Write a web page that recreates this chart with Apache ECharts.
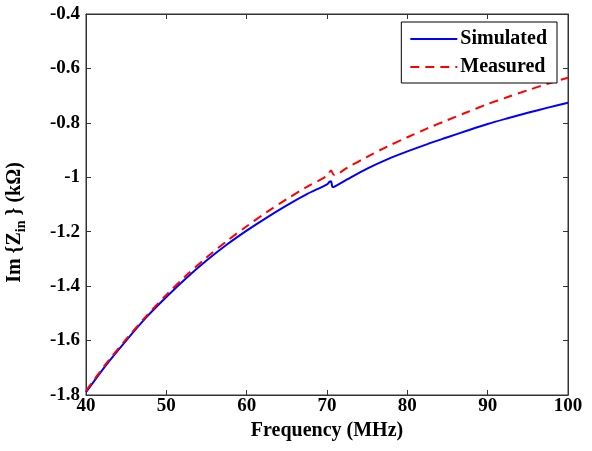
<!DOCTYPE html>
<html>
<head>
<meta charset="utf-8">
<script src="https://cdn.jsdelivr.net/npm/echarts@6/dist/echarts.min.js"></script>
<style>html,body{margin:0;padding:0;background:#fff;}#c{width:592px;height:451px;}</style>
</head>
<body>
<div id="c"></div>
<script>
var freqSim = [40,42.5,45,47.5,50,52.5,55,57.5,60,62.5,65,67.5,70,70.3,70.5,70.7,71,72.5,75,77.5,80,82.5,85,87.5,90,92.5,95,97.5,100];
var simulated = [-1.790,-1.690,-1.600,-1.515,-1.440,-1.370,-1.306,-1.248,-1.196,-1.148,-1.103,-1.062,-1.026,-1.017,-1.015,-1.036,-1.033,-1.008,-0.968,-0.934,-0.905,-0.878,-0.853,-0.828,-0.804,-0.783,-0.763,-0.744,-0.726];
var freqMeas = [40,42.5,45,47.5,50,52.5,55,57.5,60,62.5,65,67.5,70,70.5,70.9,72.5,75,77.5,80,82.5,85,87.5,90,92.5,95,97.5,100];
var measured = [-1.785,-1.685,-1.595,-1.510,-1.432,-1.360,-1.295,-1.235,-1.180,-1.128,-1.080,-1.035,-0.995,-0.975,-0.992,-0.965,-0.925,-0.887,-0.853,-0.820,-0.790,-0.760,-0.731,-0.705,-0.680,-0.656,-0.634];
var xTicks = {min:40, max:100, interval:10};
var yTicks = {min:-1.8, max:-0.4, interval:0.2};
var seriesNames = ['Simulated','Measured'];

function pairs(xs, ys){ return xs.map(function(x,i){return [x, ys[i]];}); }

var font = 'Liberation Serif';
var chart = echarts.init(document.getElementById('c'));
var axisLine = {show:true, lineStyle:{color:'#333', width:1}};
var tick = {show:true, inside:true, length:5, lineStyle:{color:'#333'}};
chart.setOption({
  animation:false,
  backgroundColor:'#fff',
  grid:{left:86, right:24, top:14, bottom:56, containLabel:false, outerBoundsMode:'none',
    show:true, borderColor:'#333', borderWidth:1, backgroundColor:'transparent'},
  legend:{
    data:seriesNames, orient:'vertical', right:35, top:22,
    backgroundColor:'#fff', borderColor:'#000', borderWidth:1,
    padding:[7,10,6,8], itemGap:8, itemWidth:47, itemHeight:14,
    itemStyle:{opacity:0},
    textStyle:{fontFamily:font, fontWeight:'bold', fontSize:20, color:'#000', lineHeight:20, padding:[0,0,0,-2]}
  },
  xAxis:[{
    type:'value', min:xTicks.min, max:xTicks.max, interval:xTicks.interval,
    name:'Frequency (MHz)', nameLocation:'middle', nameGap:19,
    nameTextStyle:{fontFamily:font, fontWeight:'bold', fontSize:20, color:'#000', lineHeight:20},
    axisLine:axisLine, axisTick:tick, splitLine:{show:false},
    axisLabel:{fontFamily:font, fontWeight:'bold', fontSize:19, color:'#000', margin:2}
  },{
    type:'value', position:'top', min:xTicks.min, max:xTicks.max, interval:xTicks.interval,
    axisLine:axisLine, axisTick:tick, splitLine:{show:false}, axisLabel:{show:false}
  }],
  yAxis:[{
    type:'value', min:yTicks.min, max:yTicks.max, interval:yTicks.interval,
    name:'Im {Z{s|in} } (kΩ)', nameLocation:'middle', nameGap:58, nameRotate:90,
    nameTextStyle:{fontFamily:font, fontWeight:'bold', fontSize:20, color:'#000', padding:[0,36,0,0],
      rich:{
        s:{fontFamily:font, fontWeight:'bold', fontSize:14, color:'#000', padding:[12,0,0,0]}
      }},
    axisLine:axisLine, axisTick:tick, splitLine:{show:false},
    axisLabel:{fontFamily:font, fontWeight:'bold', fontSize:19, color:'#000', margin:6,
      formatter:function(v){ return String(Math.round(v*10)/10); }}
  },{
    type:'value', position:'right', min:yTicks.min, max:yTicks.max, interval:yTicks.interval,
    axisLine:axisLine, axisTick:tick, splitLine:{show:false}, axisLabel:{show:false}
  }],
  series:[{
    name:seriesNames[0], type:'line', symbol:'none', smooth:0.3,
    data:pairs(freqSim, simulated),
    lineStyle:{color:'#0000ff', width:2, type:'solid'}, itemStyle:{color:'#0000ff'}
  },{
    name:seriesNames[1], type:'line', symbol:'none', smooth:0.3,
    data:pairs(freqMeas, measured),
    lineStyle:{color:'#ff0000', width:2, type:[9,6]}, itemStyle:{color:'#ff0000'}
  }]
});
</script>
</body>
</html>
